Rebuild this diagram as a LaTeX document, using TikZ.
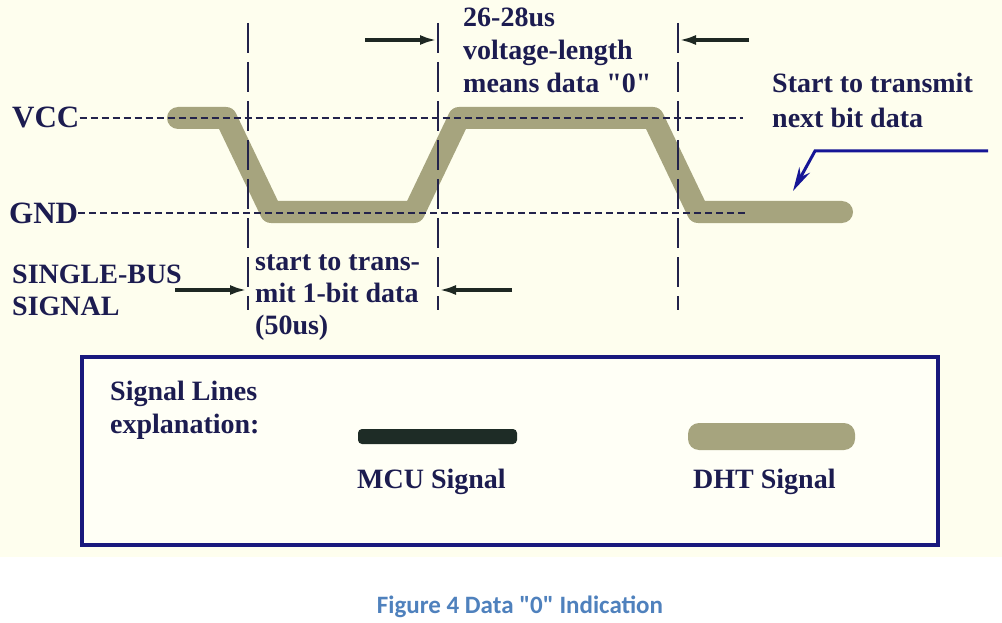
\documentclass[tikz,border=0pt]{standalone}
\usepackage{fontspec}
\setmainfont{Liberation Serif}[Ligatures=TeXOff]
\newfontfamily\capfont{Carlito}[Ligatures=TeXOff]
\usetikzlibrary{arrows.meta}
\definecolor{cream}{RGB}{254,254,238}
\definecolor{txtc}{RGB}{28,28,80}
\definecolor{dhtc}{RGB}{166,164,126}
\definecolor{mcuc}{RGB}{30,44,38}
\definecolor{arrc}{RGB}{30,40,35}
\definecolor{bluec}{RGB}{22,22,150}
\definecolor{boxc}{RGB}{25,25,125}
\definecolor{dashc}{RGB}{35,35,75}
\definecolor{capc}{RGB}{79,129,189}
\tikzset{
  lbl/.style={inner sep=0pt, anchor=base west, text=txtc, font=\bfseries\fontsize{28}{32}\selectfont},
  biglbl/.style={lbl, font=\bfseries\fontsize{31}{34}\selectfont},
  dht/.style={draw=dhtc, line width=22pt, line cap=round, line join=round},
  hdash/.style={draw=dashc, line width=1.5pt, dash pattern=on 7pt off 4pt},
  vdash/.style={draw=dashc, line width=2pt, dash pattern=on 30pt off 9pt},
  dimarrow/.style={draw=arrc, line width=3.5pt, -{Latex[length=17pt,width=10pt]}},
  bluearrow/.style={draw=bluec, line width=3pt, -{Stealth[length=24pt,width=12pt]}},
}
\begin{document}
\begin{tikzpicture}[x=1pt,y=-1pt]
\useasboundingbox (0,0) rectangle (1002,623);
\fill[cream] (0,0) rectangle (1002,557);
\fill[white] (0,557) rectangle (1002,623);

% DHT signal waveform
\draw[dht] (178,118) -- (226,118) -- (271,212) -- (414,212) -- (459,118) -- (653,118) -- (698,212) -- (842,212);

% labels VCC / GND
\node[biglbl] (vcc) at (12,128) {VCC};
\node[biglbl] (gnd) at (9,223) {GND};
\coordinate (vccend) at (743,118);
\coordinate (gndend) at (745,213);
\draw[hdash] (vcc.base east |- 0,118) -- (vccend);
\draw[hdash] (gnd.base east |- 0,213) -- (gndend);

% vertical dashed markers
\coordinate (v1t) at (248,23); \coordinate (v1b) at (248,310);
\coordinate (v2t) at (438,23); \coordinate (v2b) at (438,310);
\coordinate (v3t) at (678,23); \coordinate (v3b) at (678,310);
\draw[vdash] (v1t) -- (v1b);
\draw[vdash] (v2t) -- (v2b);
\draw[vdash] (v3t) -- (v3b);

% dimension arrows
\coordinate (a1s) at (365,40); \coordinate (a1e) at (437,40);
\coordinate (a2s) at (749,40); \coordinate (a2e) at (679,40);
\coordinate (a3s) at (175,290); \coordinate (a3e) at (247,290);
\coordinate (a4s) at (512,290); \coordinate (a4e) at (439,290);
\draw[dimarrow] (a1s) -- (a1e);
\draw[dimarrow] (a2s) -- (a2e);
\draw[dimarrow] (a3s) -- (a3e);
\draw[dimarrow] (a4s) -- (a4e);

% texts
\node[lbl] (sb1) at (12,283) {SINGLE-BUS};
\node[lbl] (sb2) at (12,315) {SIGNAL};
\node[lbl] (st1) at (255,270) {start to trans-};
\node[lbl] (st2) at (255,302) {mit 1-bit data};
\node[lbl] (st3) at (255,334) {(50us)};
\node[lbl] (vl1) at (463,27) {26-28us};
\node[lbl] (vl2) at (463,60) {voltage-length};
\node[lbl] (vl3) at (463,93) {means data "0"};
\node[lbl] (nx1) at (772,93) {Start to transmit};
\node[lbl] (nx2) at (772,128) {next bit data};

% blue pointer
\coordinate (b1) at (988,151);
\coordinate (b2) at (815,151);
\coordinate (b3) at (793,191);
\draw[bluearrow] (b1) -- (b2) -- (b3);

% legend
\draw[boxc, line width=3.5pt, fill={rgb,255:red,255;green,255;blue,246}] (82,357) rectangle (938,545);
\node[lbl] (le1) at (110,400) {Signal Lines};
\node[lbl] (le2) at (110,433) {explanation:};
\fill[mcuc, rounded corners=4pt] (358,429) rectangle (517,444);
\fill[dhtc, rounded corners=11pt] (688,423) rectangle (855,450);
\node[lbl] (mcu) at (357,488) {MCU Signal};
\node[lbl] (dhtl) at (693,488) {DHT Signal};

% caption
\node[inner sep=0pt, anchor=base, text=capc, font=\capfont\bfseries\fontsize{25}{29}\selectfont] (cap) at (520,613) {Figure 4 Data "0" Indication};
\end{tikzpicture}
\end{document}
